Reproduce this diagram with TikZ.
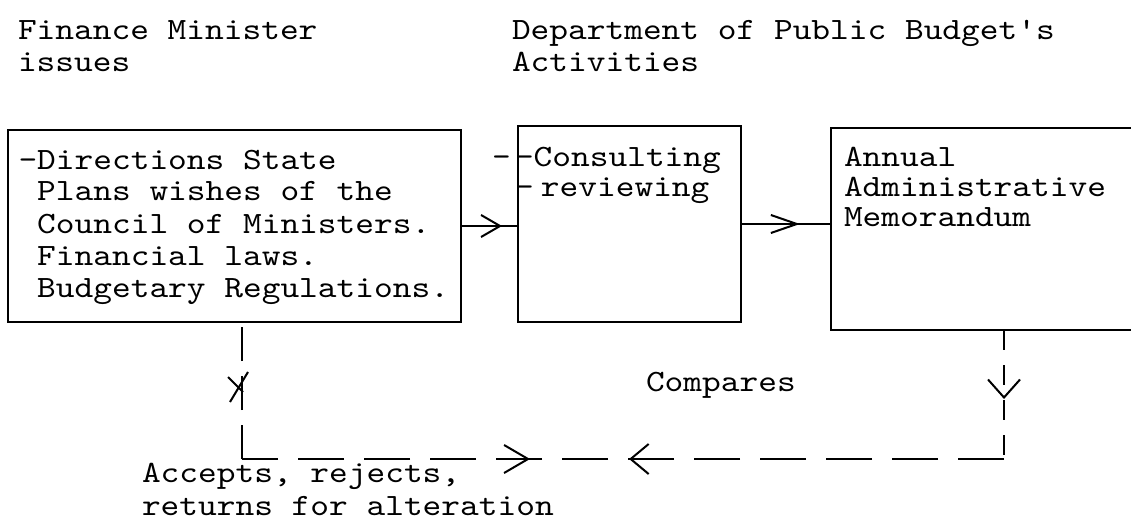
\documentclass[tikz,border=0pt]{standalone}
\usepackage{fontspec}
\setmonofont{lmmono10-regular.otf}[FakeStretch=1.15]
\usetikzlibrary{arrows.meta,decorations.markings}
\begin{document}
\begin{tikzpicture}[x=1pt,y=-1pt,
  txt/.style={font=\ttfamily\fontsize{31}{#1}\selectfont, anchor=base west, align=left, inner sep=0pt, outer sep=0pt},
  txt/.default=32,
  boxstyle/.style={draw, line width=2.2pt, rectangle, inner sep=0pt, outer sep=0pt, anchor=north west},
  conn/.style={line width=2pt},
  vdashA/.style={line width=2pt, dash pattern=on 20pt off 15pt},
  vdashB/.style={line width=2pt, dash pattern=on 34pt off 15pt},
  hdash/.style={line width=2pt, dash pattern=on 46pt off 20pt}
]
\useasboundingbox (0,0) rectangle (1131,529);

% headings (anchor = baseline of the last line)
\node[txt] (h1) at (18,72) {Finance Minister\\issues};
\node[txt] (h2) at (512,72) {Department of Public Budget's\\Activities};

% boxes
\node[boxstyle, minimum width=453pt, minimum height=192pt] (b1) at (8,130) {};
\node[boxstyle, minimum width=223pt, minimum height=196pt] (b2) at (518,126) {};
\node[boxstyle, minimum width=420pt, minimum height=202pt] (b3) at (831,128) {};

% box texts
\node[txt] (t1) at (18.5,297) {-Directions State\\\mbox{\ }Plans wishes of the\\\mbox{\ }Council of Ministers.\\\mbox{\ }Financial laws.\\\mbox{\ }Budgetary Regulations.};
\node[txt=30] (t2) at (515,197) {-Consulting\\-{\fontsize{12}{12}\selectfont\ }reviewing};
\node[txt] (t2m) at (492,167) {-};
\node[txt=30] (t3) at (844,227) {Annual\\Administrative\\Memorandum};

% solid connectors
\draw[conn, postaction={decorate}, decoration={markings, mark=at position 0.72 with {\arrow{Straight Barb[length=19pt,width=22pt,line width=2pt]}}}]
  (b1.east) -- (b1.east -| b2.west);
\draw[conn, postaction={decorate}, decoration={markings, mark=at position 0.655 with {\arrow{Straight Barb[length=26pt,width=18pt,line width=2pt]}}}]
  (b2.east) -- (b2.east -| b3.west);

% dashed loop
\coordinate (c1) at (1004,459);
\coordinate (c2) at (242,459);
\draw[vdashA, postaction={decorate}, decoration={markings, mark=at position 0.535 with {\arrow{Straight Barb[length=18pt,width=32pt,line width=2pt]}}}]
  (c1 |- b3.south) -- (c1);
\draw[hdash, postaction={decorate}, decoration={markings,
    mark=at position 0.492 with {\arrow{Straight Barb[length=18pt,width=30pt,line width=2pt]}},
    mark=at position 0.622 with {\arrowreversed{Straight Barb[length=24pt,width=28pt,line width=2pt]}}}]
  (c1) -- (c2);
\draw[vdashB] (c2) -- (c2 |- b1.south);
% cross mark on the left return line
\draw[conn] (228,377) -- (243,392);
\draw[conn] (230,402) -- (248,372);

% labels
\node[txt] (cmp) at (646,391) {Compares};
\node[txt=33] (acc) at (142,515) {Accepts, rejects,\\returns for alteration};
\end{tikzpicture}
\end{document}
